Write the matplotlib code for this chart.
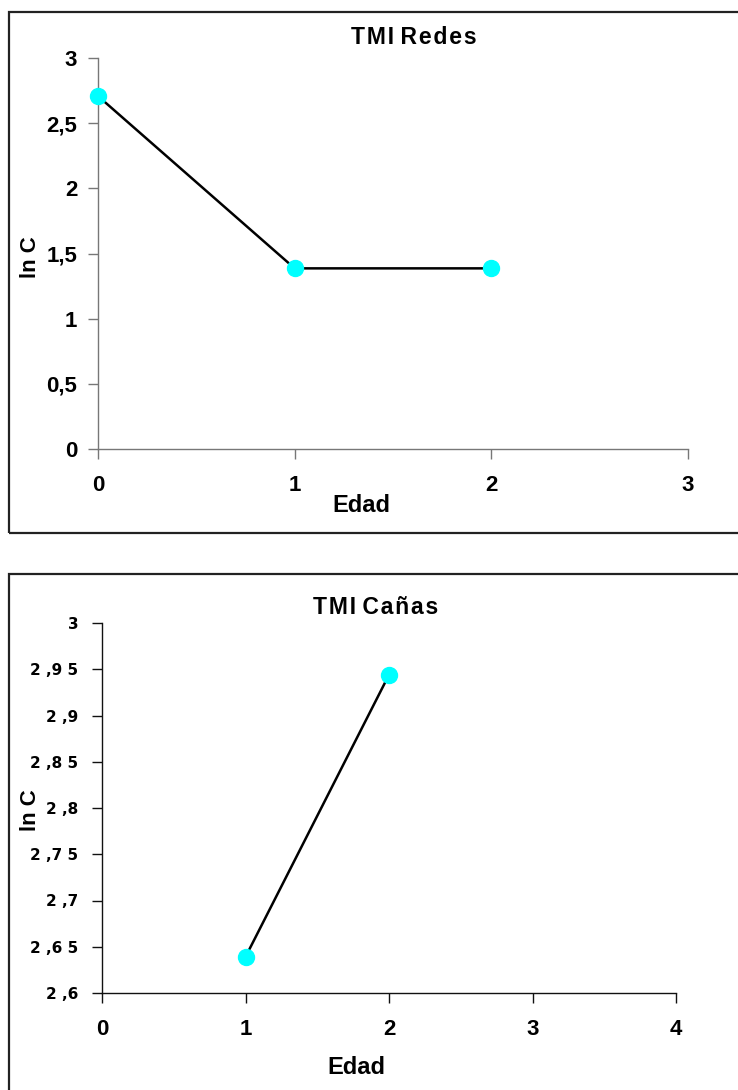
import numpy as np
import matplotlib
matplotlib.use("Agg")
import matplotlib.pyplot as plt
from matplotlib.patches import Rectangle

plt.rcParams['font.family'] = ['Liberation Sans', 'DejaVu Sans']

# TMI Redes: ln C por edad
edad_redes = [0, 1, 2]
lnc_redes = [2.708, 1.386, 1.386]
yt_redes = [0, 0.5, 1, 1.5, 2, 2.5, 3]
ytl_redes = ["0", "0,5", "1", "1,5", "2", "2,5", "3"]

# TMI Cañas
edad_canas = [1, 2]
lnc_canas = [2.639, 2.944]
yt_canas = [2.6, 2.65, 2.7, 2.75, 2.8, 2.85, 2.9, 2.95, 3.0]
ytl_canas = ["2 ,6", "2 ,6 5", "2 ,7", "2 ,7 5", "2 ,8", "2 ,8 5", "2 ,9", "2 ,9 5", "3"]

W, H = 738, 1090
fig = plt.figure(figsize=(W / 100, H / 100), dpi=100)

def fx(px):
    return px / W

def fy(py):
    return 1 - py / H

def espaciado(s):
    # separa las letras con un espacio muy fino
    return "\u200a".join(s)

# marcos de cada grafico
fig.patches.append(Rectangle((fx(9), fy(533)), fx(760 - 9), (533 - 12) / H,
                             transform=fig.transFigure, fill=False,
                             edgecolor='#222222', linewidth=1.6, clip_on=True))
fig.patches.append(Rectangle((fx(9), fy(1100)), fx(760 - 9), (1100 - 574) / H,
                             transform=fig.transFigure, fill=False,
                             edgecolor='#222222', linewidth=1.6, clip_on=True))

def estilo(ax, color_eje):
    for s in ['top', 'right']:
        ax.spines[s].set_visible(False)
    for s in ['left', 'bottom']:
        ax.spines[s].set_color(color_eje)
        ax.spines[s].set_linewidth(1.0)
    ax.tick_params(axis='both', direction='out', length=7, width=1.0, color=color_eje)

# --- TMI Redes ---
ax1 = fig.add_axes([fx(98), fy(449), fx(688 - 98), (449 - 58) / H])
ax1.plot(edad_redes, lnc_redes, color='black', linewidth=1.8, zorder=2, clip_on=False)
ax1.plot(edad_redes, lnc_redes, linestyle='none', marker='o', markersize=11.5,
         markerfacecolor='#00FFFF', markeredgecolor='#00FFFF', zorder=3, clip_on=False)
ax1.set_xlim(0, 3)
ax1.set_ylim(0, 3)
ax1.set_xticks([0, 1, 2, 3])
ax1.set_xticklabels(["0", "1", "2", "3"], fontsize=16, fontweight='bold')
ax1.set_yticks(yt_redes)
ax1.set_yticklabels(ytl_redes, fontsize=16, fontweight='bold')
estilo(ax1, '#777777')
ax1.tick_params(axis='x', pad=12)
ax1.tick_params(axis='y', pad=8)
fig.text(fx(414), fy(37), espaciado("TMI") + " " + espaciado("Redes"),
         ha='center', va='center', fontsize=16.5, fontweight='bold')
fig.text(fx(361), fy(506), "Edad", ha='center', va='center',
         fontsize=17, fontweight='bold')
fig.text(fx(30), fy(257), "ln C", ha='center', va='center', rotation=90,
         fontsize=16, fontweight='bold')

# --- TMI Cañas ---
ax2 = fig.add_axes([fx(102), fy(993), fx(676 - 102), (993 - 623) / H])
ax2.plot(edad_canas, lnc_canas, color='black', linewidth=1.8, zorder=2, clip_on=False)
ax2.plot(edad_canas, lnc_canas, linestyle='none', marker='o', markersize=11.5,
         markerfacecolor='#00FFFF', markeredgecolor='#00FFFF', zorder=3, clip_on=False)
ax2.set_xlim(0, 4)
ax2.set_ylim(2.6, 3.0)
ax2.set_xticks([0, 1, 2, 3, 4])
ax2.set_xticklabels(["0", "1", "2", "3", "4"], fontsize=16, fontweight='bold')
ax2.set_yticks(yt_canas)
ax2.set_yticklabels(ytl_canas, fontsize=11, fontweight='bold', family=['DejaVu Sans'])
estilo(ax2, '#111111')
ax2.tick_params(axis='x', pad=12)
ax2.tick_params(axis='y', pad=10)
fig.text(fx(376), fy(607), espaciado("TMI") + " " + espaciado("Cañas"),
         ha='center', va='center', fontsize=16.5, fontweight='bold')
fig.text(fx(356), fy(1068), "Edad", ha='center', va='center',
         fontsize=17, fontweight='bold')
fig.text(fx(30), fy(810), "ln C", ha='center', va='center', rotation=90,
         fontsize=16, fontweight='bold')

fig.savefig("out.png", dpi=100)
